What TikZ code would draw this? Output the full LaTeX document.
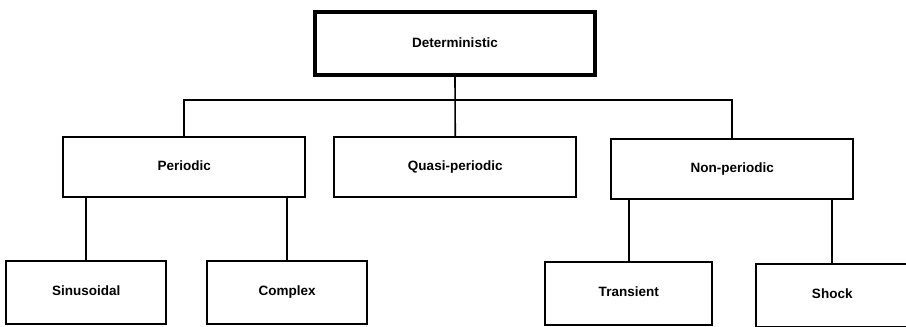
\documentclass[tikz,border=0pt]{standalone}
\usepackage{fontspec}
\setsansfont{Liberation Sans}
\usetikzlibrary{positioning}

\begin{document}
\begin{tikzpicture}[
rootbox/.style={rectangle, draw=black, line width=3.5pt, minimum width=280pt, minimum height=63pt, text height=10pt, text depth=3pt, font=\sffamily\bfseries\fontsize{13.5}{16}\selectfont},
classbox/.style={rectangle, draw=black, line width=2pt, minimum width=242pt, minimum height=60pt, text height=10pt, text depth=3pt, font=\sffamily\bfseries\fontsize{13.5}{16}\selectfont},
leafbox/.style={rectangle, draw=black, line width=2pt, minimum width=160pt, minimum height=63pt, text height=10pt, text depth=3pt, font=\sffamily\bfseries\fontsize{13.5}{16}\selectfont},
link/.style={line width=1.6pt}
]
\useasboundingbox (0,0) rectangle (906pt,-327pt);
%Nodes
\node[rootbox]	(deterministic)	at (455pt,-43.5pt)									{Deterministic};
\node[classbox]	(periodic)		[below left= 59pt and 7pt of deterministic]			{Periodic};
\node[classbox]	(quasiperiodic)	[right= 27pt of periodic]							{Quasi-periodic};
\node[classbox]	(nonperiodic)	[right= 33pt of quasiperiodic, yshift=-2pt]			{Non-periodic};
\node[leafbox]	(sinusoidal)	[below left= 62pt and -105pt of periodic]			{Sinusoidal};
\node[leafbox]	(complex)		[right= 39pt of sinusoidal]							{Complex};
\node[leafbox]	(transient)		[below left= 61pt and -103pt of nonperiodic, minimum width=167pt]	{Transient};
\node[leafbox]	(shock)			[right= 42pt of transient, minimum width=152pt, yshift=-2pt]	{Shock};
\coordinate		(bus)			at ([yshift=-23pt]deterministic.south);

%Lines
\draw[link] (deterministic.south)	--					(quasiperiodic.north);
\draw[link] (periodic.north)		|-	(bus)		-|	(nonperiodic.north);
\draw[link] (periodic.south -| sinusoidal.north)	--	(sinusoidal.north);
\draw[link] (periodic.south -| complex.north)		--	(complex.north);
\draw[link] (nonperiodic.south -| transient.north)	--	(transient.north);
\draw[link] (nonperiodic.south -| shock.north)		--	(shock.north);

\end{tikzpicture}
\end{document}
